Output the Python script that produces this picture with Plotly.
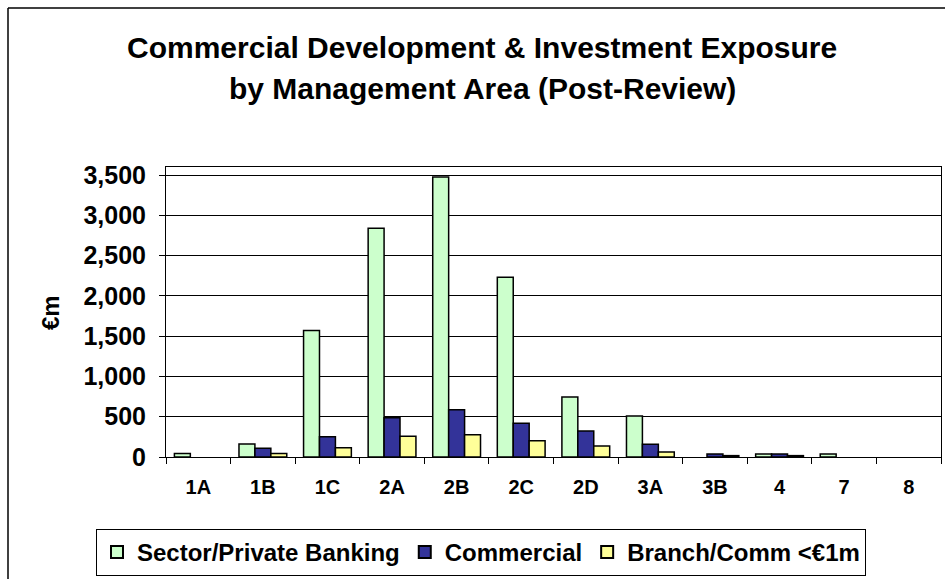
import plotly.graph_objects as go

categories = ["1A", "1B", "1C", "2A", "2B", "2C", "2D", "3A", "3B", "4", "7", "8"]
sector_private = [45, 160, 1570, 2840, 3475, 2230, 745, 510, None, 37, 37, None]
commercial = [None, 110, 252, 488, 587, 418, 323, 157, 37, 37, None, None]
branch_comm = [None, 45, 115, 257, 277, 202, 136, 62, 17, 17, None, None]
series_names = ["Sector/Private Banking", "Commercial", "Branch/Comm <€1m"]
series_colors = ["#CCFFCC", "#333399", "#FFFF99"]
y_ticks = [0, 500, 1000, 1500, 2000, 2500, 3000, 3500]
y_tick_text = ["0", "500", "1,000", "1,500", "2,000", "2,500", "3,000", "3,500"]

FONT = "Liberation Sans, Arial, sans-serif"

fig = go.Figure()
for name, vals, col in zip(series_names, [sector_private, commercial, branch_comm], series_colors):
    fig.add_trace(go.Bar(
        x=categories, y=vals, name=name,
        marker=dict(color=col, line=dict(color="black", width=1.5)),
    ))

W, H = 945, 579
L, R, T, B = 166, 4, 167, 122
pw = W - L - R
ph = H - T - B

def px_x(x):
    return (x - L) / pw

def px_y(y):
    return (H - B - y) / ph

fig.update_layout(
    width=W, height=H,
    margin=dict(l=L, r=R, t=T, b=B, autoexpand=False),
    paper_bgcolor="white", plot_bgcolor="white",
    barmode="group", bargap=0.26, bargroupgap=0,
    font=dict(family=FONT, color="black"),
    showlegend=True,
    legend=dict(
        orientation="h", x=px_x(481), xanchor="center", y=px_y(529), yanchor="top",
        bordercolor="black", borderwidth=1, bgcolor="white",
        font=dict(size=24, family=FONT, weight="bold"),
        itemsizing="constant", traceorder="normal",
    ),
    xaxis=dict(
        type="category", showgrid=False, showline=True, linecolor="black", linewidth=1,
        ticks="outside", tickson="boundaries", ticklen=6, tickcolor="black",
        tickfont=dict(size=20, family=FONT, weight="bold"),
        ticklabelstandoff=12,
        mirror=True,
    ),
    yaxis=dict(
        range=[0, 3600], tickvals=y_ticks, ticktext=y_tick_text,
        showgrid=True, gridcolor="black", gridwidth=1,
        showline=True, linecolor="black", linewidth=1, mirror=True,
        ticks="outside", ticklen=6, tickcolor="black",
        tickfont=dict(size=25, family=FONT, weight="bold"),
        ticklabelstandoff=8,
        zeroline=False,
    ),
    annotations=[
        dict(text="Commercial Development & Investment Exposure", xref="paper", yref="paper",
             x=px_x(482), y=px_y(47), xanchor="center", yanchor="middle", showarrow=False,
             font=dict(size=30, family=FONT, weight="bold")),
        dict(text="by Management Area (Post-Review)", xref="paper", yref="paper",
             x=px_x(482), y=px_y(88), xanchor="center", yanchor="middle", showarrow=False,
             font=dict(size=30, family=FONT, weight="bold")),
        dict(text="€m", xref="paper", yref="paper", x=px_x(50), y=0.5,
             xanchor="center", yanchor="middle", showarrow=False, textangle=-90,
             font=dict(size=24, family=FONT, weight="bold")),
    ],
    shapes=[
        dict(type="line", xref="paper", yref="paper", x0=px_x(8), x1=px_x(8), y0=px_y(8), y1=px_y(600),
             line=dict(color="black", width=1.5)),
        dict(type="line", xref="paper", yref="paper", x0=px_x(8), x1=px_x(960), y0=px_y(8), y1=px_y(8),
             line=dict(color="black", width=1.5)),
    ],
)

fig.write_html(
    "out.html",
    config={"displayModeBar": False},
    post_script="document.body.style.margin='0px'; document.body.style.overflow='hidden';",
)
